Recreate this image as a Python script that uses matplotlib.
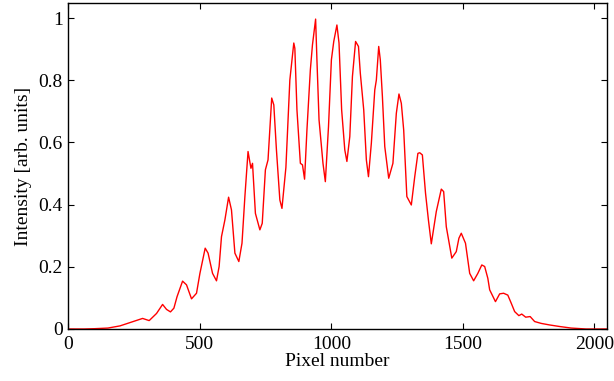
import matplotlib
matplotlib.use("Agg")
import matplotlib.pyplot as plt
from matplotlib.ticker import FuncFormatter

# Values
pixel = [0, 60, 100, 150, 196, 246, 282, 307, 335, 358, 373, 388, 401, 413,
         434, 449, 468, 487, 500, 520, 531, 548, 563, 573, 582, 595, 609, 620,
         633, 648, 660, 671, 683, 694, 700, 711, 728, 737, 749, 759, 773, 781,
         791, 804, 812, 823, 827, 842, 857, 861, 869, 882, 890, 898, 907, 920,
         928, 940, 945, 953, 961, 968, 977, 989, 1000, 1009, 1021, 1029, 1039,
         1051, 1059, 1070, 1080, 1092, 1103, 1110, 1123, 1133, 1141, 1152, 1165,
         1171, 1180, 1186, 1194, 1203, 1218, 1234, 1247, 1257, 1266, 1275, 1287,
         1304, 1317, 1329, 1336, 1346, 1358, 1369, 1380, 1399, 1418, 1427, 1437,
         1458, 1475, 1485, 1494, 1510, 1526, 1541, 1557, 1572, 1583, 1595, 1602,
         1624, 1640, 1655, 1671, 1684, 1697, 1713, 1724, 1739, 1756, 1773, 1798,
         1830, 1868, 1912, 1969, 2048]
intensity = [0.0, 0.0, 0.001, 0.003, 0.010, 0.024, 0.034, 0.027, 0.050, 0.079,
             0.063, 0.055, 0.067, 0.104, 0.154, 0.142, 0.097, 0.115, 0.179,
             0.260, 0.244, 0.179, 0.155, 0.201, 0.297, 0.351, 0.424, 0.383,
             0.244, 0.217, 0.276, 0.426, 0.571, 0.517, 0.533, 0.372, 0.319,
             0.340, 0.512, 0.544, 0.743, 0.721, 0.576, 0.415, 0.388, 0.485,
             0.520, 0.801, 0.920, 0.903, 0.705, 0.533, 0.528, 0.482, 0.640,
             0.834, 0.914, 0.997, 0.866, 0.673, 0.598, 0.533, 0.474, 0.651,
             0.866, 0.925, 0.978, 0.920, 0.705, 0.576, 0.539, 0.619, 0.812,
             0.925, 0.909, 0.823, 0.705, 0.544, 0.490, 0.598, 0.769, 0.801,
             0.909, 0.866, 0.748, 0.587, 0.485, 0.533, 0.694, 0.756, 0.726,
             0.640, 0.426, 0.399, 0.490, 0.565, 0.567, 0.560, 0.437, 0.351,
             0.274, 0.378, 0.450, 0.442, 0.329, 0.228, 0.249, 0.292, 0.308,
             0.276, 0.179, 0.155, 0.179, 0.206, 0.201, 0.163, 0.126, 0.088,
             0.113, 0.115, 0.109, 0.083, 0.056, 0.043, 0.048, 0.038, 0.040,
             0.024, 0.018, 0.013, 0.008, 0.003, 0.0, 0.0]

x_ticks = [0, 500, 1000, 1500, 2000]
y_ticks = [0, 0.2, 0.4, 0.6, 0.8, 1.0]

plt.rcParams['font.family'] = ['Liberation Serif', 'DejaVu Serif']

fig = plt.figure(figsize=(6.14, 3.81), dpi=100)
ax = fig.add_axes([0.1115, 0.1365, 0.877, 0.855])

ax.plot(pixel, intensity, color='red', linewidth=1.0)

ax.set_xlim(0, 2048)
ax.set_ylim(0, 1.048)
ax.set_xticks(x_ticks)
ax.set_yticks(y_ticks)
ax.yaxis.set_major_formatter(FuncFormatter(lambda v, p: f"{v:g}"))
ax.tick_params(direction='in', length=4, width=0.8, top=True, right=True,
               labelsize=14)
ax.tick_params(axis='x', pad=5)
ax.tick_params(axis='y', pad=4)
for side in ax.spines.values():
    side.set_linewidth(1.0)

ax.set_xlabel('Pixel number', fontsize=14, labelpad=0)
ax.set_ylabel('Intensity [arb. units]', fontsize=14, labelpad=5)

fig.savefig('out.png', dpi=100, facecolor='white')
plt.close(fig)
